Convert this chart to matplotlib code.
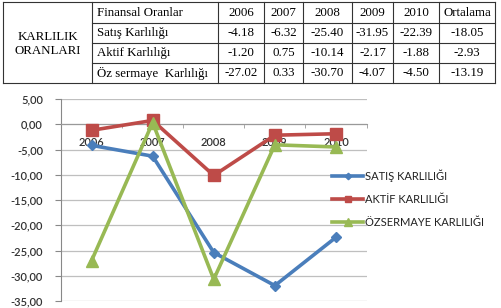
"""Karlilik oranlari: table on top, line chart below."""
import matplotlib
matplotlib.use("Agg")
import matplotlib.pyplot as plt
from matplotlib.ticker import FixedLocator, FuncFormatter

YEARS = ["2006", "2007", "2008", "2009", "2010"]
SATIS = [-4.18, -6.32, -25.40, -31.95, -22.39]
AKTIF = [-1.20, 0.75, -10.14, -2.17, -1.88]
OZSERMAYE = [-27.02, 0.33, -30.70, -4.07, -4.50]

ROW_NAMES = ["Satış Karlılığı", "Aktif Karlılığı", "Öz sermaye  Karlılığı"]
TABLE_VALUES = [
    ["-4.18", "-6.32", "-25.40", "-31.95", "-22.39", "-18.05"],
    ["-1.20", "0.75", "-10.14", "-2.17", "-1.88", "-2.93"],
    ["-27.02", "0.33", "-30.70", "-4.07", "-4.50", "-13.19"],
]
HEADER = ["Finansal Oranlar"] + YEARS + ["Ortalama"]

LEGEND_NAMES = ["SATIŞ KARLILIĞI", "AKTİF KARLILIĞI", "ÖZSERMAYE KARLILIĞI"]


def draw_table(fig):
    ax = fig.add_axes([0, 0, 1, 1])
    ax.set_xlim(0, 501)
    ax.set_ylim(308, 0)
    ax.axis("off")

    xs = [3, 92, 218, 264, 303, 352, 393, 439, 495]
    ys = [2, 23, 43, 63, 83]
    kw = dict(color="#333333", lw=0.8)
    ax.plot([xs[0], xs[-1]], [ys[0], ys[0]], **kw)
    ax.plot([xs[0], xs[-1]], [ys[-1], ys[-1]], **kw)
    for y in ys[1:-1]:
        ax.plot([xs[1], xs[-1]], [y, y], **kw)
    for x in xs:
        ax.plot([x, x], [ys[0], ys[-1]], **kw)

    font = dict(family="Liberation Serif", fontsize=9.3, color="black")
    ax.text((xs[0] + xs[1]) / 2, 44, "KARLILIK\nORANLARI", ha="center",
            va="center", linespacing=1.15, **font)

    rows = [HEADER] + [[n] + v for n, v in zip(ROW_NAMES, TABLE_VALUES)]
    for r, row in enumerate(rows):
        yc = (ys[r] + ys[r + 1]) / 2
        ax.text(xs[1] + 5, yc, row[0], ha="left", va="center", **font)
        for c, val in enumerate(row[1:]):
            xc = (xs[c + 2] + xs[c + 3]) / 2
            ax.text(xc, yc, val, ha="center", va="center", **font)


def main():
    fig = plt.figure(figsize=(5.01, 3.08), dpi=100)
    draw_table(fig)

    ax = fig.add_axes([61 / 501, 7 / 308, 305.5 / 501, 202 / 308])
    ax.set_zorder(2)
    ax.patch.set_alpha(0)
    x = list(range(len(YEARS)))

    series = [
        (SATIS, "#4A7EBB", "D", 5.5),
        (AKTIF, "#BE4B48", "s", 8),
        (OZSERMAYE, "#98B954", "^", 8.5),
    ]
    handles = []
    for vals, color, marker, ms in series:
        h, = ax.plot(x, vals, color=color, lw=2.6, marker=marker, ms=ms,
                     zorder=3)
        handles.append(h)

    ax.set_xlim(-0.5, len(YEARS) - 0.5)
    ax.set_ylim(-35, 5)
    ax.yaxis.set_major_locator(FixedLocator(range(-35, 6, 5)))
    ax.yaxis.set_major_formatter(
        FuncFormatter(lambda v, p: f"{v:.2f}".replace(".", ",")))
    ax.grid(axis="y", color="#BFBFBF", lw=0.9)
    ax.set_axisbelow(True)

    for s in ["top", "right"]:
        ax.spines[s].set_visible(False)
    ax.spines["left"].set_color("#888888")
    ax.spines["bottom"].set_position(("data", 0))
    ax.spines["bottom"].set_color("#999999")

    ax.set_xticks(x)
    ax.set_xticklabels(YEARS)
    ax.set_xticks([i - 0.5 for i in range(len(YEARS) + 1)], minor=True)
    ax.tick_params(axis="x", which="major", length=0, pad=9)
    ax.tick_params(axis="x", which="minor", length=3, color="#999999")
    ax.tick_params(axis="y", length=4, color="#888888", pad=9)
    for lbl in ax.get_xticklabels() + ax.get_yticklabels():
        lbl.set_family("Lato")
        lbl.set_fontsize(8)
        lbl.set_fontweight("semibold")
        lbl.set_color("#333333")

    ax.legend(handles, LEGEND_NAMES, loc="upper left",
              bbox_to_anchor=(332 / 501, 1 - 169 / 308),
              bbox_transform=fig.transFigure, frameon=False,
              prop={"family": "Lato", "size": 8}, handlelength=2.8,
              handletextpad=0.2, labelspacing=1.1, borderpad=0,
              borderaxespad=0, markerscale=0.6, labelcolor="#222222")

    fig.savefig("out.png", dpi=100)


if __name__ == "__main__":
    main()
